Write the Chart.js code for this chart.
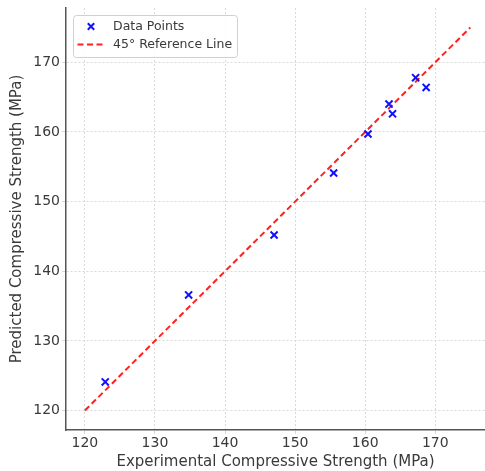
<!DOCTYPE html>
<html lang="en">
<head>
    <meta charset="UTF-8">
    <title>Experimental vs Predicted Compressive Strength</title>
    <style>
        html, body { margin: 0; padding: 0; background: #fff; overflow: hidden; }
        #wrap { position: absolute; left: 0; top: 0; width: 485px; height: 471px; }
        #myChart { display: block; }
    </style>
</head>
<body>
    <div id="wrap"><canvas id="myChart"></canvas></div>
    <script src="https://cdn.jsdelivr.net/npm/chart.js"></script>
    <script>
        // experimental vs predicted strength (MPa)
        let experimental = [122.9, 134.8, 147.0, 155.5, 160.4, 163.4, 163.9, 167.2, 168.7];
        let predicted = [124.1, 136.6, 145.2, 154.1, 159.7, 164.0, 162.6, 167.8, 166.4];
        let refLine = [120, 175];
        let xTicks = [120, 130, 140, 150, 160, 170];
        let yTicks = [120, 130, 140, 150, 160, 170];
        let xRange = [117.3, 177.1];
        let yRange = [117.2, 177.8];

        let font = 'DejaVu Sans';
        let textColor = '#3a3a3a';

        // legend drawn as a framed box inside the plot, like matplotlib
        let boxLegend = {
            id: 'boxLegend',
            afterDraw(chart) {
                let c = chart.ctx;
                let a = chart.chartArea;
                let x0 = a.left + 7, y0 = 15, w = 164, h = 42;
                c.save();
                c.fillStyle = 'rgba(255,255,255,0.85)';
                c.strokeStyle = '#d0d0d0';
                c.lineWidth = 1;
                c.beginPath();
                c.roundRect(x0 + 0.5, y0 + 0.5, w, h, 3);
                c.fill();
                c.stroke();

                let ds = chart.data.datasets;
                // scatter marker
                let mx = x0 + 18, my = y0 + 11.5, r = 3.2;
                c.strokeStyle = ds[0].borderColor;
                c.lineWidth = 2;
                c.beginPath();
                c.moveTo(mx - r, my - r); c.lineTo(mx + r, my + r);
                c.moveTo(mx + r, my - r); c.lineTo(mx - r, my + r);
                c.stroke();
                // dashed line
                let ly = y0 + 29.5;
                c.strokeStyle = ds[1].borderColor;
                c.setLineDash(ds[1].borderDash);
                c.beginPath();
                c.moveTo(x0 + 4.5, ly); c.lineTo(x0 + 30, ly);
                c.stroke();
                c.setLineDash([]);

                c.fillStyle = textColor;
                c.font = '12.5px "' + font + '"';
                c.textBaseline = 'middle';
                c.fillText(ds[0].label, x0 + 40, my);
                c.fillText(ds[1].label, x0 + 40, ly);
                c.restore();
            }
        };

        let points = experimental.map((v, i) => ({ x: v, y: predicted[i] }));
        let line = refLine.map(v => ({ x: v, y: v }));

        let gridOpts = {
            color: '#d9d9d9',
            lineWidth: 1,
            tickLength: 4,
            tickColor: '#d9d9d9'
        };

        // no extra room for half tick labels at the ends
        let noPad = s => { s.paddingLeft = 0; s.paddingRight = 0; s.paddingTop = 0; s.paddingBottom = 0; };

        new Chart(document.querySelector('#myChart'), {
            type: 'scatter',
            data: {
                datasets: [{
                    label: 'Data Points',
                    data: points,
                    pointStyle: 'crossRot',
                    pointRadius: 5,
                    pointHoverRadius: 5,
                    borderColor: '#1010ff',
                    backgroundColor: '#1010ff',
                    borderWidth: 2,
                    order: 0
                }, {
                    label: '45° Reference Line',
                    type: 'line',
                    data: line,
                    showLine: true,
                    pointRadius: 0,
                    borderColor: '#ff2020',
                    borderWidth: 2,
                    borderDash: [6, 3.5],
                    fill: false,
                    order: 1
                }]
            },
            options: {
                responsive: true,
                maintainAspectRatio: false,
                animation: false,
                layout: { autoPadding: false, padding: { top: 8, right: 0, left: 0, bottom: 0 } },
                plugins: {
                    legend: { display: false },
                    tooltip: { enabled: false }
                },
                scales: {
                    x: {
                        type: 'linear',
                        min: xRange[0],
                        max: xRange[1],
                        afterBuildTicks: s => { s.ticks = xTicks.map(v => ({ value: v })); },
                        afterFit: s => { s.height = 41; noPad(s); },
                        grid: gridOpts,
                        border: { color: '#555', width: 1.5, dash: [2, 2] },
                        ticks: { color: textColor, font: { family: font, size: 14 }, padding: 1, maxRotation: 0 },
                        title: {
                            display: true,
                            text: 'Experimental Compressive Strength (MPa)',
                            color: textColor,
                            font: { family: font, size: 15 },
                            padding: { top: 0, bottom: 0 }
                        }
                    },
                    y: {
                        type: 'linear',
                        min: yRange[0],
                        max: yRange[1],
                        afterBuildTicks: s => { s.ticks = yTicks.map(v => ({ value: v })); },
                        afterFit: s => { s.width = 66; noPad(s); },
                        grid: gridOpts,
                        border: { color: '#555', width: 1.5, dash: [2, 2] },
                        ticks: { color: textColor, font: { family: font, size: 14 }, padding: 2 },
                        title: {
                            display: true,
                            text: 'Predicted Compressive Strength (MPa)',
                            color: textColor,
                            font: { family: font, size: 15 },
                            padding: { top: 8, bottom: 0 }
                        }
                    }
                }
            },
            plugins: [boxLegend]
        });
    </script>
</body>
</html>
